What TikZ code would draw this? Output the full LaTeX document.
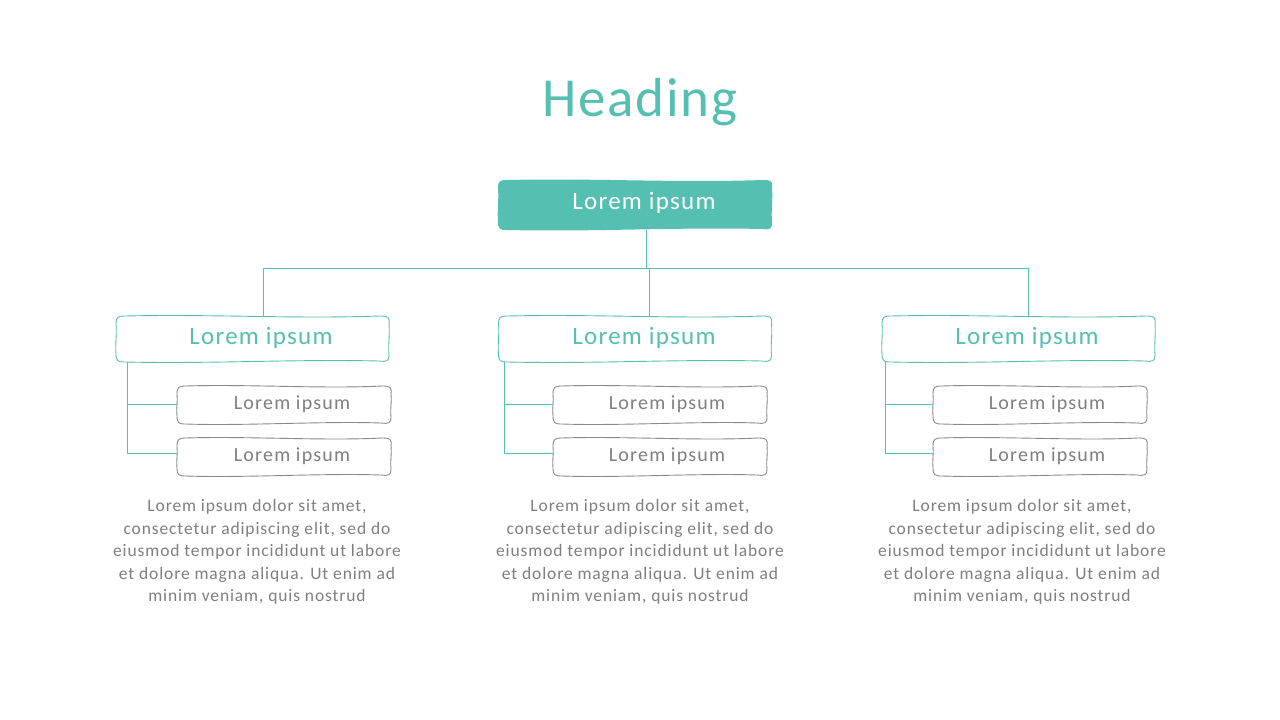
\documentclass[tikz,border=0pt]{standalone}
\usepackage{fontspec}
\setmainfont{Carlito}
\usetikzlibrary{calc}
\definecolor{teal1}{HTML}{55BFB1}
\definecolor{greytxt}{HTML}{7F7F7F}
\definecolor{greyline}{HTML}{8A8A8A}
\newcommand\sketchbox[2]{%
  \path[#2] ($(#1.north west)+(0,8)$)
   .. controls ($(#1.north west)+(0,1)$) and ($(#1.north west)+(2,0)$) .. ($(#1.north west)+(9,0)$)
   .. controls ($(#1.north)+(-40,-2)$) and ($(#1.north)+(40,3)$) .. ($(#1.north east)+(-9,0)$)
   .. controls ($(#1.north east)+(-1,0)$) and ($(#1.north east)+(1,1)$) .. ($(#1.north east)+(0,8)$)
   .. controls ($(#1.east)+(1,-4)$) and ($(#1.east)+(-1,4)$) .. ($(#1.south east)+(0,-7)$)
   .. controls ($(#1.south east)+(0,-1)$) and ($(#1.south east)+(-2,0)$) .. ($(#1.south east)+(-10,-1)$)
   .. controls ($(#1.south)+(40,-3)$) and ($(#1.south)+(-40,2)$) .. ($(#1.south west)+(9,0)$)
   .. controls ($(#1.south west)+(2,0)$) and ($(#1.south west)+(0,-1)$) .. ($(#1.south west)+(0,-8)$)
   .. controls ($(#1.west)+(-1,4)$) and ($(#1.west)+(1,-4)$) .. cycle;}
\begin{document}
\begin{tikzpicture}[x=1pt,y=-1pt,
  boxshape/.style={minimum height=#1,inner sep=0pt,outer sep=0pt},
  topbox/.style={boxshape=50pt,minimum width=274pt,font=\fontsize{25}{30}\selectfont\addfontfeature{LetterSpace=5},text=white},
  midbox/.style={boxshape=46pt,minimum width=273pt,font=\fontsize{25}{30}\selectfont\addfontfeature{LetterSpace=5},text=teal1},
  subbox/.style={boxshape=38pt,minimum width=214pt,font=\fontsize{20}{24}\selectfont\addfontfeature{LetterSpace=6},text=greytxt},
  para/.style={align=center,font=\fontsize{17.5}{22.6}\selectfont\addfontfeature{LetterSpace=5},text=greytxt},
  conn/.style={draw=teal1,line width=0.9pt},
  tealfill/.style={fill=teal1},
  tealdraw/.style={draw=teal1,line width=0.9pt,fill=white},
  greydraw/.style={draw=greyline,line width=0.9pt,fill=white}]
\fill[white] (0,0) rectangle (1280,720);
\useasboundingbox (0,0) rectangle (1280,720);

\node[font=\fontsize{55}{60}\selectfont\addfontfeature{LetterSpace=3},text=teal1] (head) at (640,102) {Heading};

% top
\node[topbox] (top) at (635,205) {};
\sketchbox{top}{tealfill}
\node[topbox] (toplbl) at (644,203) {Lorem ipsum};

% level 2 boxes
\node[midbox] (L) at (252.5,339) {};
\node[midbox] (M) at (635,339) {};
\node[midbox] (R) at (1018.5,339) {};
% level 3
\node[subbox] (La) at (284,405) {};
\node[subbox] (Lb) at (284,457) {};
\node[subbox] (Ma) at (660,405) {};
\node[subbox] (Mb) at (660,457) {};
\node[subbox] (Ra) at (1040,405) {};
\node[subbox] (Rb) at (1040,457) {};

% connectors
\coordinate (busL) at (263,268);
\coordinate (busM) at (649,268);
\coordinate (busR) at (1028,268);
\coordinate (topout) at (646,230);
\draw[conn] (topout) -- (topout |- busL);
\draw[conn] (busL) -- (busR);
\draw[conn] (busL) -- (busL |- L.north);
\draw[conn] (busM) -- (busM |- M.north);
\draw[conn] (busR) -- (busR |- R.north);

\coordinate (Lbr) at (127,360);
\coordinate (Mbr) at (504,360);
\coordinate (Rbr) at (885,360);
\draw[conn] (Lbr) |- ([yshift=1pt]La.west);
\draw[conn] (Lbr) |- ([yshift=4pt]Lb.west);
\draw[conn] (Mbr) |- ([yshift=1pt]Ma.west);
\draw[conn] (Mbr) |- ([yshift=4pt]Mb.west);
\draw[conn] (Rbr) |- ([yshift=1pt]Ra.west);
\draw[conn] (Rbr) |- ([yshift=4pt]Rb.west);

% box outlines
\foreach \n in {L,M,R} {\sketchbox{\n}{tealdraw}}
\foreach \n in {La,Lb,Ma,Mb,Ra,Rb} {\sketchbox{\n}{greydraw}}

% labels
\node[midbox] (Lt) at (261,338) {Lorem ipsum};
\node[midbox] (Mt) at (644,338) {Lorem ipsum};
\node[midbox] (Rt) at (1027,338) {Lorem ipsum};
\node[subbox] (Lat) at (292,404) {Lorem ipsum};
\node[subbox] (Lbt) at (292,456) {Lorem ipsum};
\node[subbox] (Mat) at (667,404) {Lorem ipsum};
\node[subbox] (Mbt) at (667,456) {Lorem ipsum};
\node[subbox] (Rat) at (1047,404) {Lorem ipsum};
\node[subbox] (Rbt) at (1047,456) {Lorem ipsum};

% paragraphs
\node[para] (Lp) at (257,552) {Lorem ipsum dolor sit amet,\\consectetur adipiscing elit, sed do\\eiusmod tempor incididunt ut labore\\et dolore magna aliqua. Ut enim ad\\minim veniam, quis nostrud};
\node[para] (Mp) at (640,552) {Lorem ipsum dolor sit amet,\\consectetur adipiscing elit, sed do\\eiusmod tempor incididunt ut labore\\et dolore magna aliqua. Ut enim ad\\minim veniam, quis nostrud};
\node[para] (Rp) at (1022,552) {Lorem ipsum dolor sit amet,\\consectetur adipiscing elit, sed do\\eiusmod tempor incididunt ut labore\\et dolore magna aliqua. Ut enim ad\\minim veniam, quis nostrud};
\end{tikzpicture}
\end{document}
